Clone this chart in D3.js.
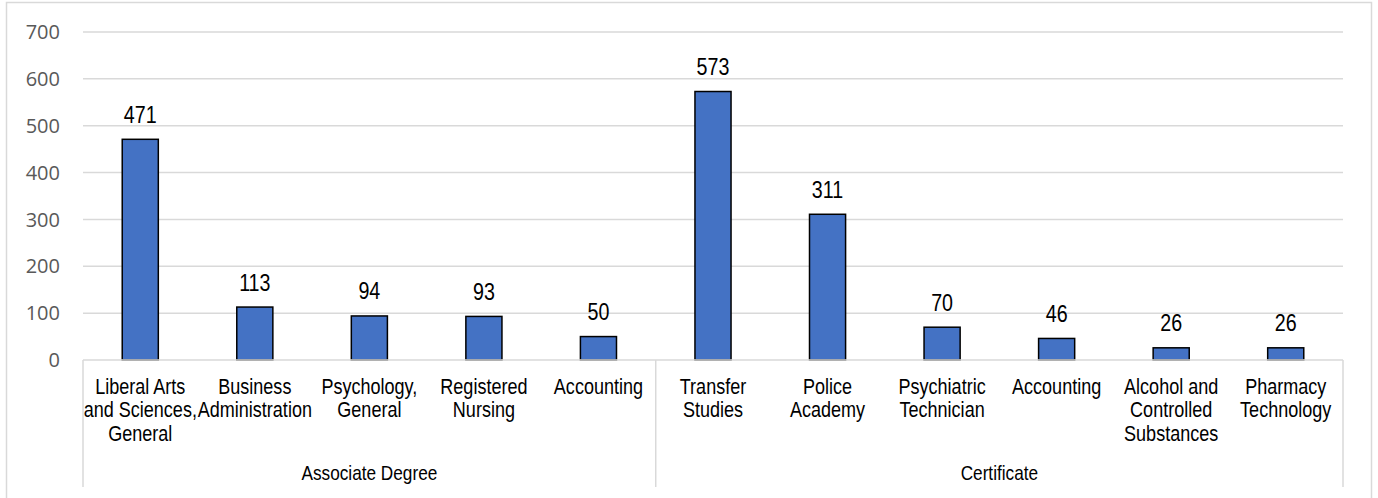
<!DOCTYPE html>
<html>
<head>
<meta charset="utf-8">
<script src="https://cdn.jsdelivr.net/npm/d3@7"></script>
<style>
  body { margin: 0; background: #fff; }
  svg { display: block; }
</style>
</head>
<body>
<svg id="chart" width="1378" height="498"></svg>
<script>
var categories = [
  'Liberal Arts\nand Sciences,\nGeneral',
  'Business\nAdministration',
  'Psychology,\nGeneral',
  'Registered\nNursing',
  'Accounting',
  'Transfer\nStudies',
  'Police\nAcademy',
  'Psychiatric\nTechnician',
  'Accounting',
  'Alcohol and\nControlled\nSubstances',
  'Pharmacy\nTechnology'
];
var groups = ['Associate Degree', 'Certificate'];
var groupSizes = [5, 6];
var values = [471, 113, 94, 93, 50, 573, 311, 70, 46, 26, 26];
var yTicks = [0, 100, 200, 300, 400, 500, 600, 700];

var svg = d3.select('#chart');
var sans = '"Liberation Sans", Arial, sans-serif';
// no narrow face installed, so squeeze regular Liberation Sans
var squeeze = 0.82;

var plotLeft = 83, plotRight = 1343, plotTop = 32, plotBottom = 360, axisBottom = 487;

// outer border
svg.append('rect')
    .attr('x', 6.5)
    .attr('y', 2.5)
    .attr('width', 1365)
    .attr('height', 500)
    .style('fill', 'white')
    .style('stroke', '#d9d9d9')
    .style('stroke-width', 1.5);

var x = d3.scaleBand()
    .domain(d3.range(categories.length))
    .range([plotLeft, plotRight])
    .padding(0);

var y = d3.scaleLinear()
    .domain([0, 700])
    .range([plotBottom, plotTop]);

// gridlines
svg.append('g').selectAll('line')
    .data(yTicks.slice(1))
    .join('line')
    .attr('x1', plotLeft)
    .attr('x2', plotRight)
    .attr('y1', d => y(d))
    .attr('y2', d => y(d))
    .style('stroke', '#d9d9d9')
    .style('stroke-width', 1.5);

// y tick labels
svg.append('g').selectAll('text')
    .data(yTicks)
    .join('text')
    .attr('x', 60)
    .attr('y', d => y(d))
    .attr('dy', '0.36em')
    .attr('text-anchor', 'end')
    .style('fill', '#595959')
    .style('font-family', '"Open Sans", sans-serif')
    .style('font-size', '20px')
    .text(d => d);

// bars
var barW = x.bandwidth() * 0.315;
svg.append('g').selectAll('rect')
    .data(values)
    .join('rect')
    .attr('x', (d, i) => x(i) + (x.bandwidth() - barW) / 2)
    .attr('y', d => y(d))
    .attr('width', barW)
    .attr('height', d => y(0) - y(d))
    .style('fill', '#4472c4')
    .style('stroke', 'black')
    .style('stroke-width', 1.5);

// value labels
svg.append('g').selectAll('text')
    .data(values)
    .join('text')
    .attr('transform', (d, i) => 'translate(' + (x(i) + x.bandwidth() / 2) + ',' + (y(d) - 16.5) + ') scale(' + squeeze + ',1)')
    .attr('text-anchor', 'middle')
    .style('fill', 'black')
    .style('font-family', sans)
    .style('font-size', '24px')
    .text(d => d);

// x axis line
svg.append('line')
    .attr('x1', plotLeft)
    .attr('x2', plotRight)
    .attr('y1', plotBottom)
    .attr('y2', plotBottom)
    .style('stroke', '#d9d9d9')
    .style('stroke-width', 1.5);

// category labels
var catText = svg.append('g').selectAll('text')
    .data(categories)
    .join('text')
    .attr('transform', (d, i) => 'translate(' + (x(i) + x.bandwidth() / 2) + ',393.5) scale(' + squeeze + ',1)')
    .attr('text-anchor', 'middle')
    .style('fill', 'black')
    .style('font-family', sans)
    .style('font-size', '22px');

catText.each(function(d) {
  var t = d3.select(this);
  d.split('\n').forEach(function(line, j) {
    t.append('tspan')
      .attr('x', 0)
      .attr('y', j * 24)
      .text(line);
  });
});

// group separators and labels
var bounds = [0];
groupSizes.forEach(function(n, i) { bounds.push(bounds[i] + n); });
var edgeX = bounds.map(b => b < categories.length ? x(b) : plotRight);

svg.append('g').selectAll('line')
    .data(edgeX)
    .join('line')
    .attr('x1', d => d)
    .attr('x2', d => d)
    .attr('y1', plotBottom)
    .attr('y2', axisBottom)
    .style('stroke', '#d9d9d9')
    .style('stroke-width', 1.5);

svg.append('g').selectAll('text')
    .data(groups)
    .join('text')
    .attr('transform', (d, i) => 'translate(' + ((edgeX[i] + edgeX[i + 1]) / 2) + ',480) scale(' + squeeze + ',1)')
    .attr('text-anchor', 'middle')
    .style('fill', 'black')
    .style('font-family', sans)
    .style('font-size', '21px')
    .text(d => d);
</script>
</body>
</html>
